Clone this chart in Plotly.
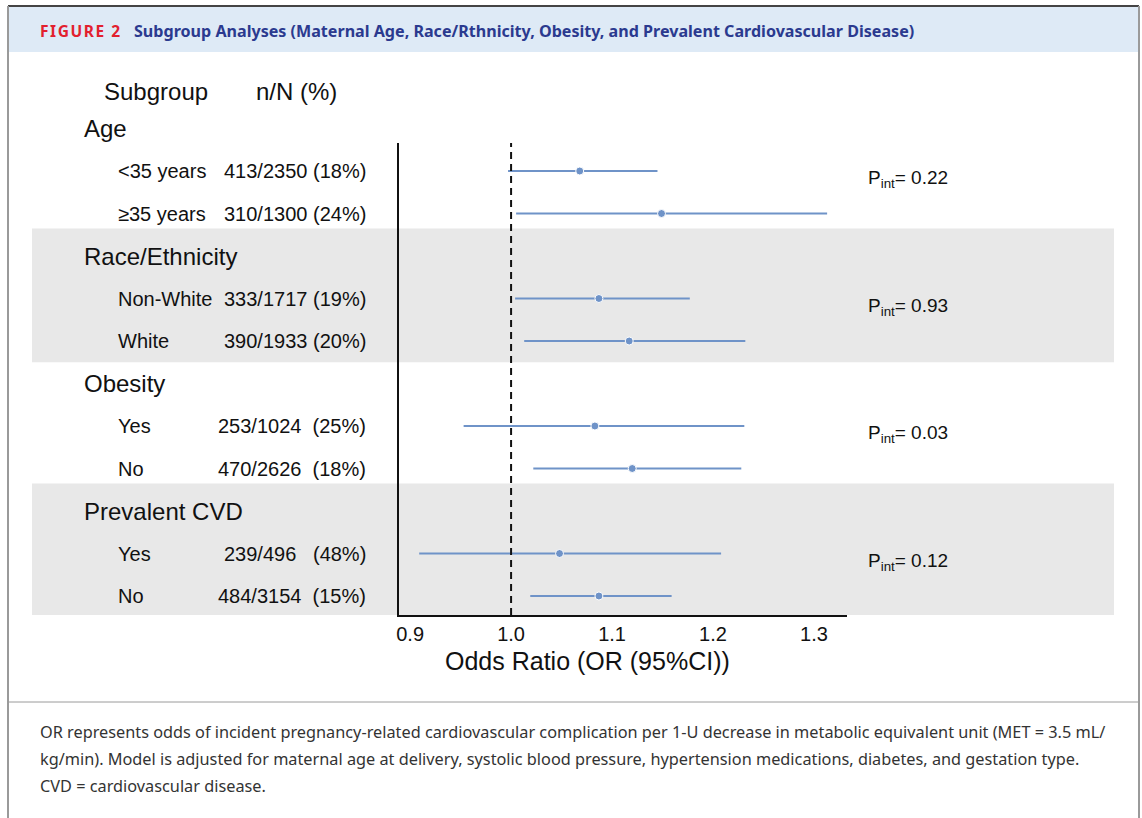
import plotly.graph_objects as go

# ---------------- data ----------------
groups = ["Age", "Race/Ethnicity", "Obesity", "Prevalent CVD"]
subgroups = ["<35 years", "≥35 years", "Non-White", "White", "Yes", "No", "Yes", "No"]
counts = ["413/2350 (18%)", "310/1300 (24%)", "333/1717 (19%)", "390/1933 (20%)",
          "253/1024  (25%)", "470/2626  (18%)", "239/496   (48%)", "484/3154  (15%)"]
or_vals = [1.068, 1.149, 1.087, 1.117, 1.083, 1.120, 1.048, 1.087]
ci_low = [0.997, 1.005, 1.004, 1.013, 0.953, 1.022, 0.909, 1.019]
ci_high = [1.145, 1.313, 1.177, 1.232, 1.231, 1.228, 1.208, 1.159]
p_int = ["0.22", "0.93", "0.03", "0.12"]
x_ticks = [0.9, 1.0, 1.1, 1.2, 1.3]

title_fig = "FIGURE 2"
title_text = "Subgroup Analyses (Maternal Age, Race/Rthnicity, Obesity, and Prevalent Cardiovascular Disease)"
footer_lines = [
    "OR represents odds of incident pregnancy-related cardiovascular complication per 1-U decrease in metabolic equivalent unit (MET = 3.5 mL/",
    "kg/min). Model is adjusted for maternal age at delivery, systolic blood pressure, hypertension medications, diabetes, and gestation type.",
    "CVD = cardiovascular disease.",
]

# ---------------- layout geometry ----------------
W, H = 1142, 818
L, R, T, B = 399, 847, 143, 615
PW, PH = R - L, B - T


def px(x):
    return (x - L) / PW


def py(y):
    return 1 - (y - T) / PH


# row index of each header / subgroup (2 subgroups per group)
header_idx = [1 + 3 * g for g in range(len(groups))]
row_idx = []
for g in range(len(groups)):
    row_idx += [header_idx[g] + 1, header_idx[g] + 2]

ROW0, ROWH = 86, 42.5  # pixel of index 0, pixels per row
y_top = (T - ROW0) / ROWH
y_bot = (B - ROW0) / ROWH


def ry(i):
    """row index -> paper y"""
    return py(ROW0 + ROWH * i)


BLUE = "#6f93c8"
TXT = "#111111"
FONT = "Liberation Sans, Arial, sans-serif"

fig = go.Figure()

fig.add_trace(go.Scatter(
    x=or_vals, y=row_idx, mode="markers",
    marker=dict(color=BLUE, size=8, line=dict(color="white", width=1)),
    error_x=dict(type="data", symmetric=False,
                 array=[h - o for h, o in zip(ci_high, or_vals)],
                 arrayminus=[o - l for o, l in zip(or_vals, ci_low)],
                 width=0, thickness=2, color=BLUE),
    showlegend=False, hoverinfo="x+y",
))

shapes = []
# grey bands for groups 2 and 4
for g in (1, 3):
    shapes.append(dict(type="rect", xref="paper", yref="y", layer="below",
                       x0=px(32), x1=px(1114),
                       y0=header_idx[g] - 0.65, y1=header_idx[g] + 2.5,
                       fillcolor="#e8e8e8", line=dict(width=0)))
# header band
shapes.append(dict(type="rect", xref="paper", yref="paper", layer="below",
                   x0=px(8), x1=px(1139), y0=py(52), y1=py(7),
                   fillcolor="#deeaf6", line=dict(width=0)))
# frame lines
shapes.append(dict(type="line", xref="paper", yref="paper", x0=px(8), x1=px(1139),
                   y0=py(6), y1=py(6), line=dict(color="#444444", width=2)))
shapes.append(dict(type="line", xref="paper", yref="paper", x0=px(8), x1=px(8),
                   y0=py(6), y1=py(818), line=dict(color="#9a9a9a", width=2)))
shapes.append(dict(type="line", xref="paper", yref="paper", x0=px(1139), x1=px(1139),
                   y0=py(6), y1=py(818), line=dict(color="#9a9a9a", width=2)))
shapes.append(dict(type="line", xref="paper", yref="paper", x0=px(8), x1=px(1139),
                   y0=py(702), y1=py(702), line=dict(color="#9a9a9a", width=1)))
# reference line at OR = 1
shapes.append(dict(type="line", xref="x", yref="paper", x0=1.0, x1=1.0, y0=0, y1=1,
                   line=dict(color="#111111", width=2, dash="7px,5px")))

ann = []


def text(t, x, y, size, xanchor="left", family=FONT, color=TXT):
    ann.append(dict(text=t, x=x, y=y, xref="paper", yref="paper", xanchor=xanchor,
                    yanchor="middle", showarrow=False,
                    font=dict(family=family, size=size, color=color)))


# column headers
text("Subgroup", px(102), py(92), 24)
text("n/N (%)", px(254), py(92), 24)
for g, name in enumerate(groups):
    text(name, px(82), ry(header_idx[g]), 24)
    text("P<sub>int</sub>= " + p_int[g], px(866), ry(header_idx[g] + 1.2), 19)
for i, (s, c) in enumerate(zip(subgroups, counts)):
    text(s, px(116), ry(row_idx[i]), 20)
    text(c.replace(" ", "\u00a0"), px(368), ry(row_idx[i]), 20, xanchor="right")
# x axis title
text("Odds Ratio (OR (95%CI))", px(587), py(661), 25, xanchor="center")
# figure title
TFONT = "Noto Sans, sans-serif"
text("<b>" + "\u200a".join(title_fig) + "</b>", px(38), py(31), 15.5,
     family=TFONT, color="#e2202e")
text("<b>" + title_text + "</b>", px(132), py(31), 16.1, family=TFONT, color="#2b3a8f")
# footer
for k, line in enumerate(footer_lines):
    text(line, px(38), py(732 + 27 * k), 16.3, family="Noto Sans, sans-serif",
         color="#333333")

fig.update_layout(
    width=W, height=H,
    margin=dict(l=L, r=W - R, t=T, b=H - B, pad=0),
    paper_bgcolor="white", plot_bgcolor="rgba(0,0,0,0)",
    shapes=shapes, annotations=ann, showlegend=False,
    xaxis=dict(range=[0.889, 1.3327], tickvals=x_ticks, tickformat=".1f", ticks="",
               showgrid=False, zeroline=False, showline=True, linecolor="#111111",
               linewidth=2, tickfont=dict(family=FONT, size=20, color=TXT), fixedrange=True),
    yaxis=dict(range=[y_bot, y_top], showticklabels=False, ticks="", showgrid=False,
               zeroline=False, showline=True, linecolor="#111111", linewidth=2,
               fixedrange=True),
)

fig.write_html("out.html", config={"displayModeBar": False},
               post_script="document.body.style.margin='0px';")
